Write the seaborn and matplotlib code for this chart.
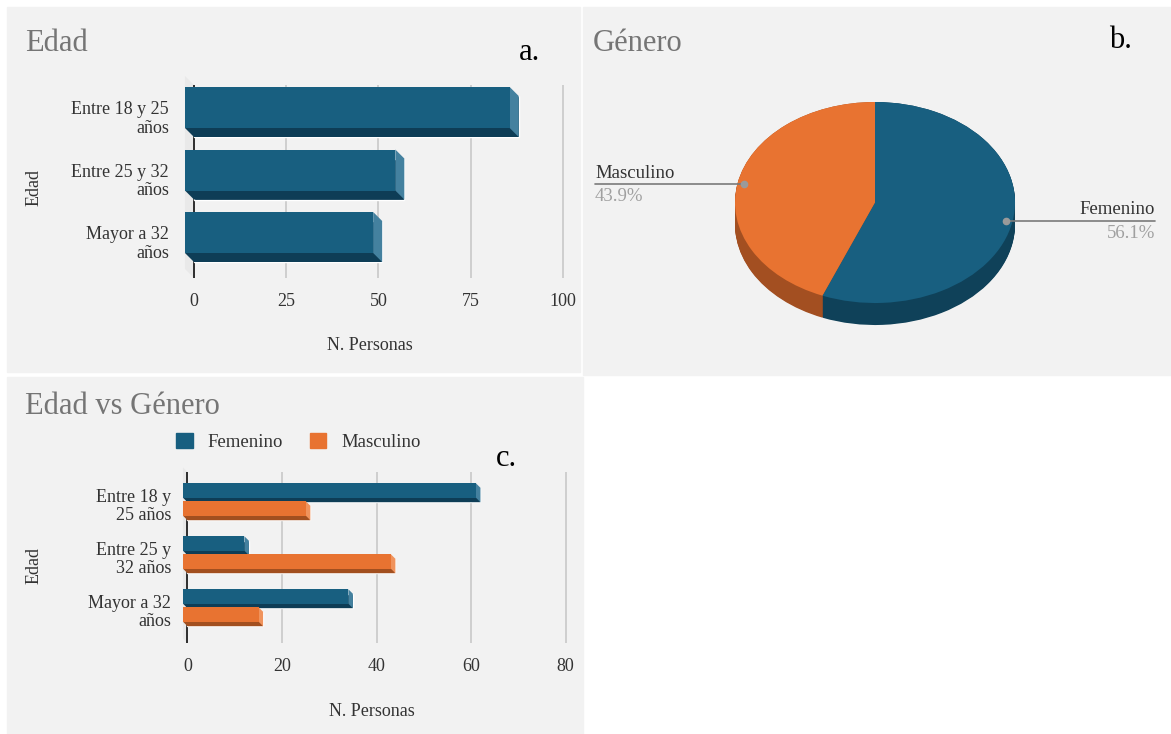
import numpy as np
import pandas as pd
import matplotlib
matplotlib.use("Agg")
import matplotlib.pyplot as plt
import seaborn as sns
from matplotlib.patches import Polygon, Rectangle, Patch
from matplotlib.colors import to_hex

# ---------------- data ----------------
categories = ["Entre 18 y 25 años", "Entre 25 y 32 años", "Mayor a 32 años"]
labels_a = ["Entre 18 y 25\naños", "Entre 25 y 32\naños", "Mayor a 32\naños"]
labels_c = ["Entre 18 y\n25 años", "Entre 25 y\n32 años", "Mayor a 32\naños"]
total_edad = [88, 57, 51]
genders = ["Femenino", "Masculino"]
femenino = [62, 13, 35]
masculino = [26, 44, 16]
ticks_a = [0, 25, 50, 75, 100]
ticks_c = [0, 20, 40, 60, 80]

# ---------------- style ----------------
sns.set_style("white")
plt.rcParams["font.family"] = ["Liberation Serif", "DejaVu Serif"]

BG = "#f2f2f2"
BLUE, BLUE_D, BLUE_L = "#185f80", "#0e3d56", "#44819f"
ORANGE, ORANGE_D, ORANGE_L = "#e87331", "#a24f1f", "#f0935c"
PIE_BLUE_SIDE, PIE_ORANGE_SIDE = "#0f4159", "#a34f21"
TITLE_C = "#757575"
TEXT_C = "#333333"
GRID_C = "#cccccc"

W, H = 1171, 734
fig = plt.figure(figsize=(W / 100, H / 100), dpi=100)
fig.patch.set_facecolor("white")


def fig_rect(x0, y0, x1, y1):
    fig.patches.append(Rectangle((x0 / W, 1 - y1 / H), (x1 - x0) / W, (y1 - y0) / H,
                                 transform=fig.transFigure, color=BG, zorder=-5))


def ax_px(x0, y0, x1, y1):
    a = fig.add_axes([x0 / W, 1 - y1 / H, (x1 - x0) / W, (y1 - y0) / H])
    a.set_facecolor("none")
    a.set_zorder(2)
    return a


fig_rect(7, 7, 580, 372)
fig_rect(583, 7, 1171, 375)
fig_rect(7, 377, 583, 734)


def style_bar_axes(ax, ticks, ticklabels, xlim, ylim, ypad):
    ax.set_xlim(*xlim)
    ax.set_ylim(*ylim)
    ax.set_xticks(ticks)
    ax.set_xticklabels([str(t) for t in ticks], fontsize=13, color=TEXT_C)
    ax.set_yticks(range(len(ticklabels)))
    ax.set_yticklabels(ticklabels, fontsize=13, color=TEXT_C, linespacing=1.1)
    ax.tick_params(axis="both", length=0)
    ax.tick_params(axis="x", pad=11)
    ax.tick_params(axis="y", pad=ypad)
    for s in ax.spines.values():
        s.set_visible(False)
    ax.set_axisbelow(True)
    ax.grid(axis="x", color=GRID_C, linewidth=1.3)
    ax.grid(axis="y", visible=False)
    ax.axvline(0, color="#222222", linewidth=1.3, zorder=0.8)


def bar3d(ax, box_w, box_h, d, colmap):
    x0, x1 = ax.get_xlim()
    y0, y1 = ax.get_ylim()
    ppx = box_w / abs(x1 - x0)
    ppy = box_h / abs(y1 - y0)
    dx, dy = d / ppx, d / ppy
    ytop_l, ybot_l = min(y0, y1), max(y0, y1)
    bars = [p for p in ax.patches if isinstance(p, Rectangle)]
    # faint left wall
    ax.add_patch(Polygon([(0, ytop_l), (-dx, ytop_l - dy), (-dx, ybot_l - dy), (0, ybot_l)],
                         closed=True, color="#e9e9e9", zorder=0.3, clip_on=False, lw=0))
    for p in bars:
        main, dark, light = colmap[to_hex(p.get_facecolor())]
        bx, by, bw, bh = p.get_x(), p.get_y(), p.get_width(), p.get_height()
        yt, yb = by, by + bh
        ax.add_patch(Polygon([(bx - dx, yb - dy), (bx + bw - dx, yb - dy), (bx + bw, yb), (bx, yb)],
                             closed=True, color=dark, lw=0, zorder=2))
        ax.add_patch(Polygon([(bx + bw - dx, yt - dy), (bx + bw, yt), (bx + bw, yb), (bx + bw - dx, yb - dy)],
                             closed=True, color=light, lw=0, zorder=2))
        ax.add_patch(Rectangle((bx - dx, yt - dy), bw, bh, color=main, lw=0, zorder=3))


# ---------------- panel a ----------------
ax_a = ax_px(180, 85, 570, 278)
sns.barplot(x=total_edad, y=categories, orient="h", color=BLUE_D, saturation=1,
            width=0.656, ax=ax_a)
style_bar_axes(ax_a, ticks_a, labels_a, (-3.79, 101.9), (2.584, -0.504), ypad=8)
bar3d(ax_a, 390, 193, 9, {to_hex(BLUE_D): (BLUE, BLUE_D, BLUE_L)})
ax_a.set_xlabel("N. Personas", fontsize=13, color=TEXT_C, va="center")
ax_a.xaxis.set_label_coords((370 - 180) / 390, (278 - 346) / 193)
ax_a.set_ylabel("Edad", fontsize=13, color=TEXT_C, va="center")
ax_a.yaxis.set_label_coords((34 - 180) / 390, (278 - 188) / 193)

# ---------------- panel c ----------------
df_c = pd.DataFrame({
    "Edad": categories * 2,
    "Genero": [genders[0]] * 3 + [genders[1]] * 3,
    "N": femenino + masculino,
})
ax_c = ax_px(178, 472, 570, 643)
sns.barplot(data=df_c, x="N", y="Edad", hue="Genero", hue_order=genders, orient="h",
            palette=[BLUE_D, ORANGE_D], saturation=1, width=0.68, gap=0.2,
            legend=False, ax=ax_c)
style_bar_axes(ax_c, ticks_c, labels_c, (-2.01, 80.95), (2.623, -0.604), ypad=5)
bar3d(ax_c, 392, 171, 4.5, {to_hex(BLUE_D): (BLUE, BLUE_D, BLUE_L),
                            to_hex(ORANGE_D): (ORANGE, ORANGE_D, ORANGE_L)})
ax_c.set_xlabel("N. Personas", fontsize=13, color=TEXT_C, va="center")
ax_c.xaxis.set_label_coords((372 - 178) / 392, (643 - 712) / 171)
ax_c.set_ylabel("Edad", fontsize=13, color=TEXT_C, va="center")
ax_c.yaxis.set_label_coords((34 - 178) / 392, (643 - 565) / 171)

handles = [Patch(facecolor=BLUE, edgecolor=BLUE), Patch(facecolor=ORANGE, edgecolor=ORANGE)]
fig.legend(handles, genders, loc="center left", bbox_to_anchor=(176 / W, 1 - 442 / H),
           ncol=2, frameon=False, fontsize=13.5, handlelength=0.9, handleheight=0.9,
           handletextpad=0.8, columnspacing=1.4, borderpad=0, borderaxespad=0,
           labelcolor=TEXT_C)

# ---------------- panel b (pie) ----------------
ax_b = ax_px(725, 92, 1025, 340)
pie_vals = [sum(femenino), sum(masculino)]
depth = 22 / 100.5
for k in np.linspace(depth, 0.0, 30):
    ax_b.pie(pie_vals, colors=[PIE_BLUE_SIDE, PIE_ORANGE_SIDE], startangle=90,
             counterclock=False, center=(0, -k), radius=1, wedgeprops=dict(linewidth=0))
ax_b.pie(pie_vals, colors=[BLUE, ORANGE], startangle=90, counterclock=False,
         center=(0, 0), radius=1, wedgeprops=dict(linewidth=0))
ax_b.set_aspect("auto")
ax_b.set_xlim(-1.0714, 1.0714)
ax_b.set_ylim(-1.368, 1.0995)
ax_b.axis("off")

total = sum(pie_vals)
cum = 0
for name, v in zip(genders, pie_vals):
    mid = np.deg2rad(90 - 360 * (cum + v / 2) / total)
    cum += v
    px, py = 0.95 * np.cos(mid), 0.95 * np.sin(mid)
    side = 1 if px > 0 else -1
    xe = 2.0 * side
    ax_b.plot([px, xe], [py, py], color="#7a7a7a", lw=1.2, clip_on=False, zorder=5)
    ax_b.plot([px], [py], "o", color="#9a9a9a", ms=4.5, clip_on=False, zorder=6)
    ha = "right" if side > 0 else "left"
    ax_b.annotate(name, (xe, py), xytext=(0, 8), textcoords="offset points",
                  ha=ha, va="center", fontsize=13.5, color=TEXT_C, annotation_clip=False)
    ax_b.annotate(f"{100 * v / total:.1f}%", (xe, py), xytext=(0, -9),
                  textcoords="offset points", ha=ha, va="center", fontsize=13.5,
                  color="#a0a0a0", annotation_clip=False)

# ---------------- titles & panel letters ----------------
fig.text(25 / W, 1 - 51 / H, "Edad", fontsize=22, color=TITLE_C, va="baseline")
fig.text(593 / W, 1 - 51 / H, "Género", fontsize=22, color=TITLE_C, va="baseline")
fig.text(25 / W, 1 - 414 / H, "Edad vs Género", fontsize=22, color=TITLE_C, va="baseline")
fig.text(529 / W, 1 - 52 / H, "a.", fontsize=22, color="black", ha="center", va="center")
fig.text(1120 / W, 1 - 41 / H, "b.", fontsize=22, color="black", ha="center", va="center")
fig.text(506 / W, 1 - 459 / H, "c.", fontsize=22, color="black", ha="center", va="center")

fig.savefig("out.png", dpi=100)
